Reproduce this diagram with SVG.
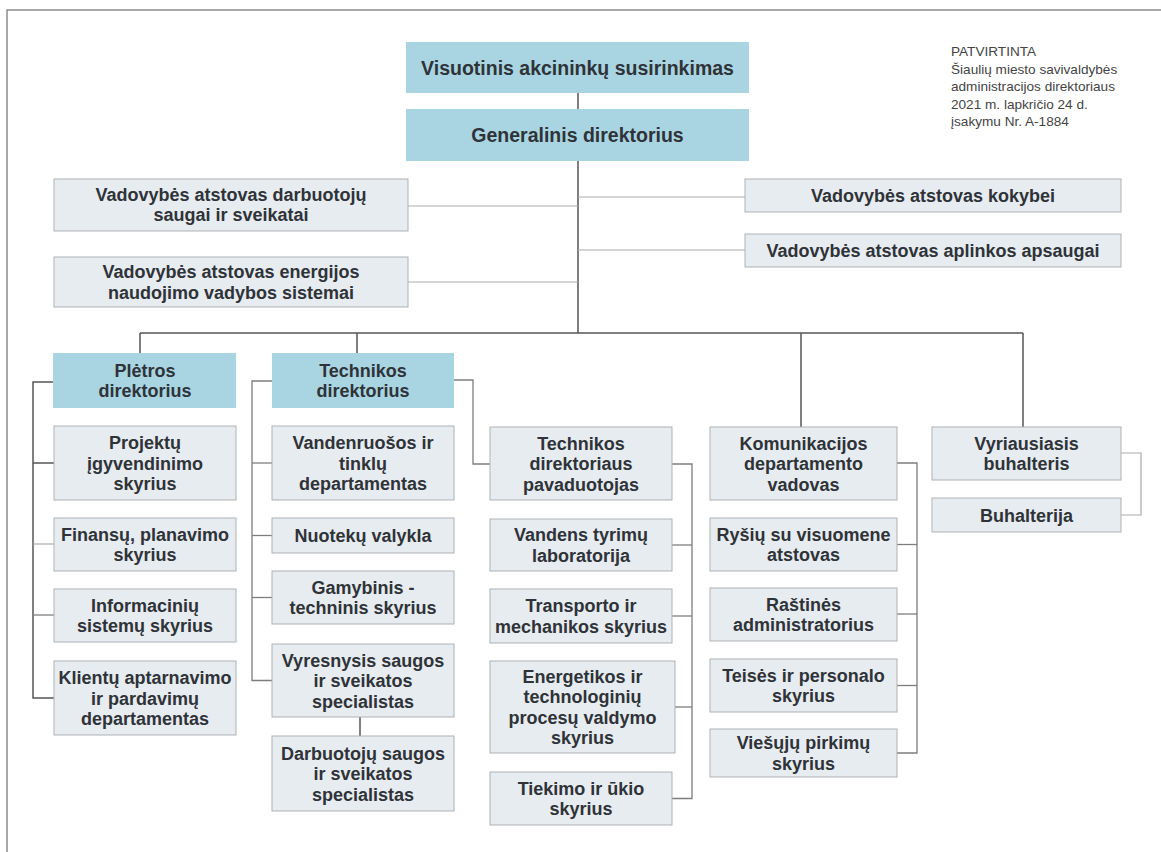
<svg xmlns="http://www.w3.org/2000/svg" width="1161" height="852" viewBox="0 0 1161 852">
<style>
.bg{fill:#ffffff}
.box{fill:#e7ecf1;stroke:#adb1b5;stroke-width:1}
.blue{fill:#a9d5e3;stroke:none}
.t{font-family:"Liberation Sans",Arial,sans-serif;font-weight:bold;font-size:18px;fill:#2f3338;text-anchor:middle}
.tl{font-size:19.5px}
.note{font-family:"Liberation Sans",Arial,sans-serif;font-size:13.6px;fill:#444444}
.dk{stroke:#555555;stroke-width:1.5;fill:none}
.md{stroke:#7d7d7d;stroke-width:1.3;fill:none}
.lt{stroke:#ababab;stroke-width:1.2;fill:none}
.frame{stroke:#8c8c8c;stroke-width:1.5;fill:none}
</style>
<rect class="bg" x="0" y="0" width="1161" height="852"/>
<polyline class="frame" points="7,852 7,10 1161,10"/>

<g id="connectors">
  <line class="dk" x1="578" y1="93" x2="578" y2="109"/>
  <line class="dk" x1="578" y1="161" x2="578" y2="333"/>
  <line class="lt" x1="408" y1="206" x2="578" y2="206"/>
  <line class="lt" x1="408" y1="282" x2="578" y2="282"/>
  <line class="lt" x1="578" y1="197" x2="745" y2="197"/>
  <line class="lt" x1="578" y1="250" x2="745" y2="250"/>
  <line class="dk" x1="140" y1="333" x2="1023" y2="333"/>
  <line class="dk" x1="140" y1="333" x2="140" y2="353"/>
  <line class="dk" x1="357" y1="333" x2="357" y2="353"/>
  <line class="dk" x1="801" y1="333" x2="801" y2="427"/>
  <line class="dk" x1="1023" y1="333" x2="1023" y2="427"/>
  <polyline class="dk" points="53,382 33,382 33,698 54,698"/>
  <line class="dk" x1="33" y1="463" x2="54" y2="463"/>
  <line class="lt" x1="33" y1="544" x2="54" y2="544"/>
  <line class="md" x1="33" y1="615" x2="54" y2="615"/>
  <polyline class="md" points="272,381 252,381 252,680.5 272,680.5"/>
  <line class="md" x1="252" y1="463" x2="272" y2="463"/>
  <line class="md" x1="252" y1="535.5" x2="272" y2="535.5"/>
  <line class="md" x1="252" y1="597.5" x2="272" y2="597.5"/>
  <line class="dk" x1="360" y1="717" x2="360" y2="736"/>
  <polyline class="md" points="454,380 473,380 473,464 490,464"/>
  <polyline class="md" points="672,464 692,464 692,798.5 672,798.5"/>
  <line class="md" x1="672" y1="545" x2="692" y2="545"/>
  <line class="md" x1="672" y1="616" x2="692" y2="616"/>
  <line class="md" x1="675" y1="707" x2="692" y2="707"/>
  <polyline class="md" points="897,463 917,463 917,753 897,753"/>
  <line class="md" x1="897" y1="544.5" x2="917" y2="544.5"/>
  <line class="md" x1="897" y1="614" x2="917" y2="614"/>
  <line class="md" x1="897" y1="685.5" x2="917" y2="685.5"/>
  <polyline class="lt" points="1121,453 1141,453 1141,515 1121,515"/>
</g>

<g id="n-visuotinis"><rect class="blue" x="406" y="42" width="343" height="51"/><text class="t tl" x="577.5" y="74.5">Visuotinis akcininkų susirinkimas</text></g>
<g id="n-generalinis"><rect class="blue" x="406" y="109" width="343" height="52"/><text class="t tl" x="577.5" y="142">Generalinis direktorius</text></g>

<g id="n-patvirtinta">
  <text class="note" x="951" y="56">PATVIRTINTA</text>
  <text class="note" x="951" y="73.5">Šiaulių miesto savivaldybės</text>
  <text class="note" x="951" y="91">administracijos direktoriaus</text>
  <text class="note" x="951" y="108.5">2021 m. lapkričio 24 d.</text>
  <text class="note" x="951" y="126">įsakymu Nr. A-1884</text>
</g>

<g id="n-adv1"><rect class="box" x="54" y="179" width="354" height="52"/><text class="t" x="231" y="200.5">Vadovybės atstovas darbuotojų</text><text class="t" x="231" y="221">saugai ir sveikatai</text></g>
<g id="n-adv2"><rect class="box" x="54" y="257" width="354" height="50"/><text class="t" x="231" y="278">Vadovybės atstovas energijos</text><text class="t" x="231" y="298.5">naudojimo vadybos sistemai</text></g>
<g id="n-adv3"><rect class="box" x="745" y="179" width="376" height="33"/><text class="t" x="933" y="202">Vadovybės atstovas kokybei</text></g>
<g id="n-adv4"><rect class="box" x="745" y="234" width="376" height="33"/><text class="t" x="933" y="257">Vadovybės atstovas aplinkos apsaugai</text></g>

<g id="n-pletros"><rect class="blue" x="53" y="353" width="183" height="55"/><text class="t" x="145" y="376.75">Plėtros</text><text class="t" x="145" y="397.25">direktorius</text></g>
<g id="n-projektu"><rect class="box" x="54" y="426" width="182" height="74"/><text class="t" x="145" y="449">Projektų</text><text class="t" x="145" y="469.5">įgyvendinimo</text><text class="t" x="145" y="490">skyrius</text></g>
<g id="n-finansu"><rect class="box" x="54" y="518" width="182" height="53"/><text class="t" x="145" y="540.75">Finansų, planavimo</text><text class="t" x="145" y="561.25">skyrius</text></g>
<g id="n-informaciniu"><rect class="box" x="54" y="589" width="182" height="53"/><text class="t" x="145" y="611.75">Informacinių</text><text class="t" x="145" y="632.25">sistemų skyrius</text></g>
<g id="n-klientu"><rect class="box" x="54" y="661" width="182" height="74"/><text class="t" x="145" y="684">Klientų aptarnavimo</text><text class="t" x="145" y="704.5">ir pardavimų</text><text class="t" x="145" y="725">departamentas</text></g>

<g id="n-technikos"><rect class="blue" x="272" y="353" width="182" height="55"/><text class="t" x="363" y="376.75">Technikos</text><text class="t" x="363" y="397.25">direktorius</text></g>
<g id="n-vandenruosos"><rect class="box" x="272" y="426" width="182" height="74"/><text class="t" x="363" y="449">Vandenruošos ir</text><text class="t" x="363" y="469.5">tinklų</text><text class="t" x="363" y="490">departamentas</text></g>
<g id="n-nuoteku"><rect class="box" x="272" y="518" width="182" height="35"/><text class="t" x="363" y="542">Nuotekų valykla</text></g>
<g id="n-gamybinis"><rect class="box" x="272" y="571" width="182" height="53"/><text class="t" x="363" y="593.75">Gamybinis -</text><text class="t" x="363" y="614.25">techninis skyrius</text></g>
<g id="n-vyresnysis"><rect class="box" x="272" y="644" width="182" height="73"/><text class="t" x="363" y="666.5">Vyresnysis saugos</text><text class="t" x="363" y="687">ir sveikatos</text><text class="t" x="363" y="707.5">specialistas</text></g>
<g id="n-darbuotoju"><rect class="box" x="272" y="736" width="182" height="75"/><text class="t" x="363" y="759.5">Darbuotojų saugos</text><text class="t" x="363" y="780">ir sveikatos</text><text class="t" x="363" y="800.5">specialistas</text></g>

<g id="n-pavaduotojas"><rect class="box" x="490" y="427" width="182" height="73"/><text class="t" x="581" y="449.5">Technikos</text><text class="t" x="581" y="470">direktoriaus</text><text class="t" x="581" y="490.5">pavaduotojas</text></g>
<g id="n-vandens"><rect class="box" x="490" y="519" width="182" height="52"/><text class="t" x="581" y="541.25">Vandens tyrimų</text><text class="t" x="581" y="561.75">laboratorija</text></g>
<g id="n-transporto"><rect class="box" x="490" y="589" width="182" height="54"/><text class="t" x="581" y="612.25">Transporto ir</text><text class="t" x="581" y="632.75">mechanikos skyrius</text></g>
<g id="n-energetikos"><rect class="box" x="490" y="661" width="185" height="92"/><text class="t" x="582.5" y="682.75">Energetikos ir</text><text class="t" x="582.5" y="703.25">technologinių</text><text class="t" x="582.5" y="723.75">procesų valdymo</text><text class="t" x="582.5" y="744.25">skyrius</text></g>
<g id="n-tiekimo"><rect class="box" x="490" y="772" width="182" height="53"/><text class="t" x="581" y="794.75">Tiekimo ir ūkio</text><text class="t" x="581" y="815.25">skyrius</text></g>

<g id="n-komunikacijos"><rect class="box" x="710" y="427" width="187" height="73"/><text class="t" x="803.5" y="449.5">Komunikacijos</text><text class="t" x="803.5" y="470">departamento</text><text class="t" x="803.5" y="490.5">vadovas</text></g>
<g id="n-rysiu"><rect class="box" x="710" y="518" width="187" height="53"/><text class="t" x="803.5" y="540.75">Ryšių su visuomene</text><text class="t" x="803.5" y="561.25">atstovas</text></g>
<g id="n-rastines"><rect class="box" x="710" y="588" width="187" height="53"/><text class="t" x="803.5" y="610.75">Raštinės</text><text class="t" x="803.5" y="631.25">administratorius</text></g>
<g id="n-teises"><rect class="box" x="710" y="659" width="187" height="53"/><text class="t" x="803.5" y="681.75">Teisės ir personalo</text><text class="t" x="803.5" y="702.25">skyrius</text></g>
<g id="n-viesuju"><rect class="box" x="710" y="729" width="187" height="48"/><text class="t" x="803.5" y="749.25">Viešųjų pirkimų</text><text class="t" x="803.5" y="769.75">skyrius</text></g>

<g id="n-vyriausiasis"><rect class="box" x="932" y="427" width="189" height="53"/><text class="t" x="1026.5" y="449.75">Vyriausiasis</text><text class="t" x="1026.5" y="470.25">buhalteris</text></g>
<g id="n-buhalterija"><rect class="box" x="932" y="498" width="189" height="34"/><text class="t" x="1026.5" y="521.5">Buhalterija</text></g>
</svg>
